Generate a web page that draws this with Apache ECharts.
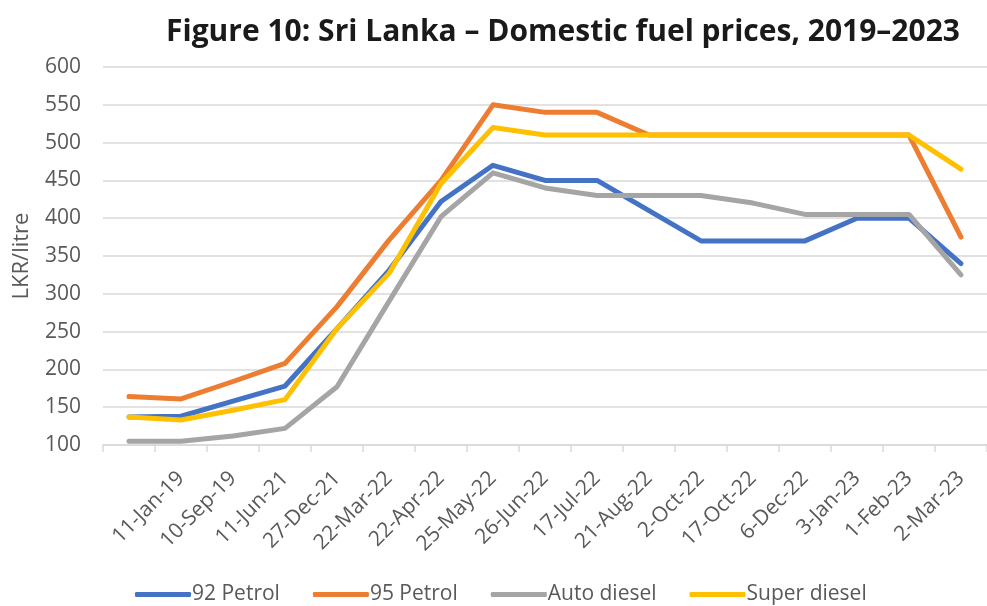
<!DOCTYPE html>
<html>
<head>
<meta charset="utf-8">
<script src="https://cdn.jsdelivr.net/npm/echarts@6/dist/echarts.min.js"></script>
<style>
html, body { margin: 0; padding: 0; background: #fff; }
#chartDiv { width: 987px; height: 606px; }
</style>
</head>
<body>
<div id="chartDiv"></div>
<script>
var categories = ['', '11-Jan-19', '10-Sep-19', '11-Jun-21', '27-Dec-21', '22-Mar-22', '22-Apr-22',
    '25-May-22', '26-Jun-22', '17-Jul-22', '21-Aug-22', '2-Oct-22', '17-Oct-22', '6-Dec-22',
    '3-Jan-23', '1-Feb-23', '2-Mar-23'];

var petrol92 = [137, 138, 158, 178, 254, 331, 422, 470, 450, 450, 410, 370, 370, 370, 400, 400, 340];
var petrol95 = [164, 161, 184, 208, 283, 371, 450, 550, 540, 540, 510, 510, 510, 510, 510, 510, 375];
var autoDiesel = [105, 105, 112, 122, 177, 290, 402, 460, 440, 430, 430, 430, 420, 405, 405, 405, 325];
var superDiesel = [137, 133, 146, 160, 254, 327, 446, 520, 510, 510, 510, 510, 510, 510, 510, 510, 465];

var yTicks = [100, 150, 200, 250, 300, 350, 400, 450, 500, 550, 600];

var textColor = '#595959';
var gridColor = '#d9d9d9';
var fontName = 'Open Sans';

var dom = document.getElementById('chartDiv');
var myChart = echarts.init(dom);

function lineSeries(name, data, color) {
    return {
        name: name,
        type: 'line',
        data: data,
        symbol: 'none',
        smooth: false,
        lineStyle: { color: color, width: 5, cap: 'round', join: 'round' },
        itemStyle: { color: color }
    };
}

var option = {
    animation: false,
    backgroundColor: '#fff',
    title: {
        text: 'Figure 10: Sri Lanka – Domestic fuel prices, 2019–2023',
        left: 558,
        textAlign: 'center',
        top: 12,
        textStyle: {
            fontFamily: fontName,
            fontWeight: 'bold',
            fontSize: 30,
            color: '#1a1a1a'
        }
    },
    legend: {
        bottom: -4,
        left: 130,
        icon: 'roundRect',
        itemWidth: 56,
        itemHeight: 5,
        itemGap: 33,
        textStyle: { fontFamily: fontName, fontSize: 21, color: textColor, padding: [0, 0, 0, -4] },
        data: ['92 Petrol', '95 Petrol', 'Auto diesel', 'Super diesel']
    },
    grid: {
        left: 103,
        right: -4,
        top: 67,
        bottom: 161,
        containLabel: false
    },
    xAxis: {
        type: 'category',
        data: categories,
        boundaryGap: true,
        axisLine: { lineStyle: { color: gridColor, width: 1.5 } },
        axisTick: { show: true, length: 7, lineStyle: { color: gridColor, width: 1.5 } },
        axisLabel: {
            interval: 0,
            rotate: 45,
            margin: 30,
            fontFamily: fontName,
            fontSize: 21,
            color: textColor
        },
        splitLine: { show: false }
    },
    yAxis: {
        type: 'value',
        min: yTicks[0],
        max: yTicks[yTicks.length - 1],
        interval: 50,
        name: 'LKR/litre',
        nameLocation: 'middle',
        nameGap: 70,
        nameTextStyle: { fontFamily: fontName, fontSize: 22, color: textColor },
        axisLine: { show: false },
        axisTick: { show: false },
        axisLabel: { margin: 22, fontFamily: fontName, fontSize: 21, color: textColor },
        splitLine: { lineStyle: { color: gridColor, width: 1.5 } }
    },
    series: [
        lineSeries('92 Petrol', petrol92, '#4472C4'),
        lineSeries('95 Petrol', petrol95, '#ED7D31'),
        lineSeries('Auto diesel', autoDiesel, '#A5A5A5'),
        lineSeries('Super diesel', superDiesel, '#FFC000')
    ]
};

myChart.setOption(option);
</script>
</body>
</html>
